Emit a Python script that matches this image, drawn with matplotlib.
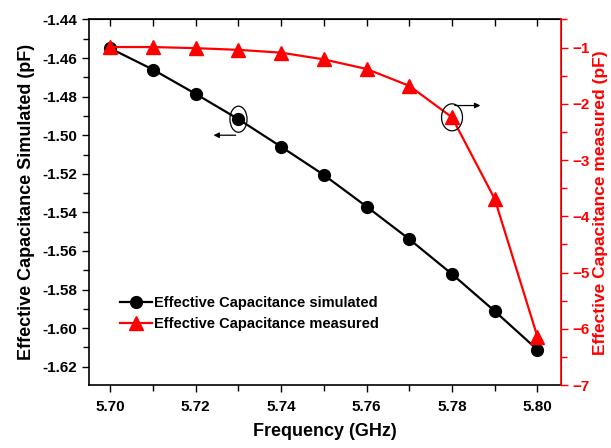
import matplotlib
matplotlib.use("Agg")
import matplotlib.pyplot as plt
from matplotlib.patches import Ellipse
from matplotlib.ticker import MultipleLocator, FormatStrFormatter

plt.rcParams['font.family'] = ['Liberation Sans', 'DejaVu Sans']
plt.rcParams['font.weight'] = 'bold'

# data
freq = [5.70, 5.71, 5.72, 5.73, 5.74, 5.75, 5.76, 5.77, 5.78, 5.79, 5.80]
cap_sim = [-1.455, -1.466, -1.4786, -1.4917, -1.506, -1.5206, -1.537,
           -1.5539, -1.572, -1.5912, -1.6112]
cap_meas = [-0.99, -0.99, -1.01, -1.04, -1.09, -1.21, -1.38, -1.68,
            -2.24, -3.69, -6.14]
x_ticks = [5.70, 5.72, 5.74, 5.76, 5.78, 5.80]

red = '#ff0000'

fig = plt.figure(figsize=(6.11, 4.48), dpi=100)
ax = fig.add_axes([0.1457, 0.1406, 0.918 - 0.1457, 0.9565 - 0.1406])
ax2 = ax.twinx()

l1, = ax.plot(freq, cap_sim, '-o', color='black', lw=1.6, ms=8.5, zorder=3,
              label='Effective Capacitance simulated')
l2, = ax2.plot(freq, cap_meas, '-^', color=red, lw=1.6, ms=9.5, zorder=3,
               label='Effective Capacitance measured')

ax.set_xlim(5.695, 5.8055)
ax.set_ylim(-1.6295, -1.44)
ax2.set_ylim(-7, -0.5)

ax.set_xticks(x_ticks)
ax.xaxis.set_major_formatter(FormatStrFormatter('%.2f'))
ax.xaxis.set_minor_locator(MultipleLocator(0.01))
ax.yaxis.set_major_locator(MultipleLocator(0.02))
ax.yaxis.set_minor_locator(MultipleLocator(0.01))
ax.yaxis.set_major_formatter(FormatStrFormatter('%.2f'))
ax2.yaxis.set_major_locator(MultipleLocator(1))
ax2.yaxis.set_minor_locator(MultipleLocator(0.5))

ax.tick_params(axis='both', which='major', direction='out', length=5, width=1,
               labelsize=11)
ax.tick_params(axis='x', which='major', pad=6)
ax.tick_params(axis='both', which='minor', direction='out', length=4, width=1)
ax2.tick_params(axis='y', which='major', direction='out', length=5, width=1,
                colors=red, labelsize=11)
ax2.tick_params(axis='y', which='minor', direction='out', length=4, width=1,
                colors=red)
for lab in ax.get_xticklabels() + ax.get_yticklabels() + ax2.get_yticklabels():
    lab.set_fontweight('bold')

top = ax.secondary_xaxis('top')
top.set_xticks(freq)
top.tick_params(direction='in', length=5, width=1, labeltop=False)

for sp in ['left', 'bottom', 'top']:
    ax.spines[sp].set_linewidth(1.2)
ax2.spines['right'].set_color(red)
ax2.spines['right'].set_linewidth(1.2)
ax2.spines['left'].set_visible(False)
ax2.spines['top'].set_visible(False)
ax2.spines['bottom'].set_visible(False)

ax.set_xlabel('Frequency (GHz)', fontsize=13, fontweight='bold', labelpad=6)
ax.set_ylabel('Effective Capacitance Simulated (pF)', fontsize=13,
              fontweight='bold', labelpad=5)
ax2.set_ylabel('Effective Capacitance measured (pF)', fontsize=12.5,
               fontweight='bold', color=red, labelpad=2)

# ellipse + arrow markers showing which axis each curve uses
ax.add_patch(Ellipse((freq[3], cap_sim[3]), 0.004, 0.0135, fill=False,
                     ec='black', lw=0.9, zorder=4))
ax.annotate('', xy=(freq[3] - 0.0065, cap_sim[3] - 0.0083),
            xytext=(freq[3], cap_sim[3] - 0.0083),
            arrowprops=dict(arrowstyle='-|>', color='black', lw=0.9,
                            mutation_scale=8))
ax2.add_patch(Ellipse((freq[8], cap_meas[8]), 0.0049, 0.48, fill=False,
                      ec='black', lw=0.9, zorder=4))
ax2.annotate('', xy=(freq[8] + 0.0073, cap_meas[8] + 0.21),
             xytext=(freq[8], cap_meas[8] + 0.21),
             arrowprops=dict(arrowstyle='-|>', color='black', lw=0.9,
                             mutation_scale=8))

ax.legend([l1, l2], [l1.get_label(), l2.get_label()], loc='upper left',
          bbox_to_anchor=(0.066, 0.243), frameon=False,
          handlelength=2.2, handletextpad=0.1, labelspacing=0.45,
          borderpad=0, borderaxespad=0, prop={'weight': 'bold', 'size': 10.5})

fig.savefig('out.png', dpi=100)
